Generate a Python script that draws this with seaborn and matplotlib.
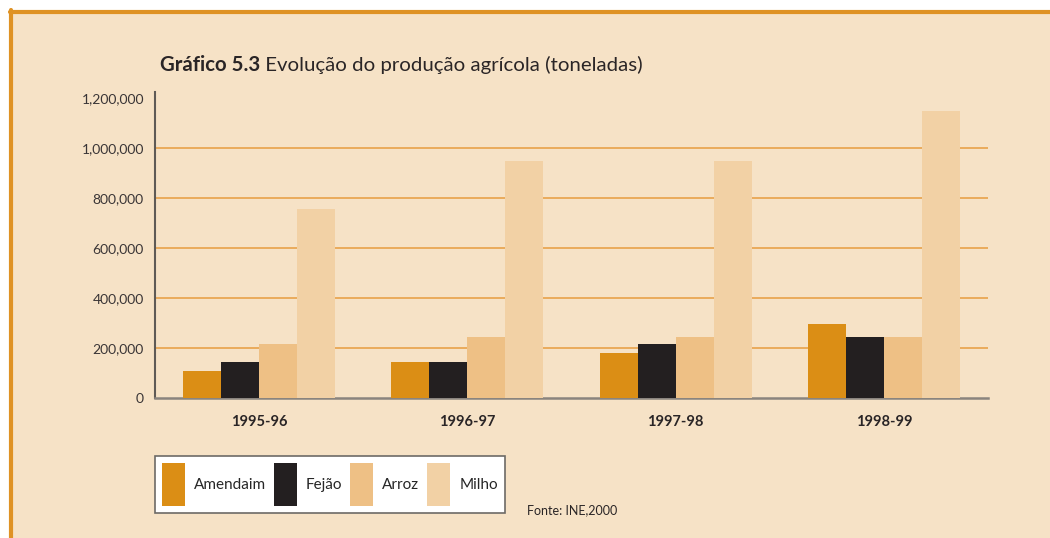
import matplotlib
matplotlib.use("Agg")
import matplotlib.pyplot as plt
import matplotlib.patches as mpatches
import pandas as pd
import seaborn as sns

anos = ["1995-96", "1996-97", "1997-98", "1998-99"]
culturas = ["Amendaim", "Fejão", "Arroz", "Milho"]
amendaim = [110000, 145000, 182000, 298000]
fejao = [145000, 145000, 215000, 244000]
arroz = [215000, 244000, 244000, 244000]
milho = [755000, 950000, 950000, 1147000]
yticks = [0, 200000, 400000, 600000, 800000, 1000000, 1200000]

cores = ["#DB8E15", "#231F20", "#EEC085", "#F2D1A5"]
fundo = "#F6E2C6"
laranja = "#E8A24A"

df = pd.DataFrame({
    "ano": anos * 4,
    "cultura": [c for c in culturas for _ in anos],
    "valor": amendaim + fejao + arroz + milho,
})

sns.set_style("white")
plt.rcParams["font.family"] = ["Lato", "DejaVu Sans"]

fig = plt.figure(figsize=(10.5, 5.38), dpi=100)
fig.patch.set_facecolor("white")

# fundo com moldura laranja (topo e esquerda)
fig.patches.append(mpatches.Rectangle((9 / 1050, 0), 1, 1 - 11 / 538, transform=fig.transFigure,
                                      facecolor=fundo, edgecolor="none", zorder=-2))
fig.add_artist(plt.Line2D([10 / 1050, 1], [1 - 11.5 / 538] * 2, color="#DF9224", lw=3))
fig.add_artist(plt.Line2D([10.5 / 1050] * 2, [0, 1 - 10 / 538], color="#DF9224", lw=3))

ax = fig.add_axes([155 / 1050, 1 - 398 / 538, 833 / 1050, 306 / 538])
ax.set_facecolor("none")

sns.barplot(data=df, x="ano", y="valor", hue="cultura", hue_order=culturas,
            palette=cores, saturation=1, width=0.73, ax=ax, legend=True, linewidth=0, zorder=3)

ax.set_xlim(-0.5, 3.5)
ax.set_ylim(0, 1225000)
ax.set_yticks(yticks)
ax.set_yticklabels([f"{v:,}" for v in yticks], fontsize=10, color="#3a3536")
for v in yticks[1:-1]:
    ax.axhline(v, color=laranja, lw=1.2, zorder=1)
ax.tick_params(axis="both", length=0)
ax.tick_params(axis="y", pad=8)
ax.tick_params(axis="x", pad=12)
for lbl in ax.get_xticklabels():
    lbl.set_fontweight("bold")
    lbl.set_fontsize(10.5)
    lbl.set_color("#2a2526")
ax.set_xlabel("")
ax.set_ylabel("")
for s in ["top", "right"]:
    ax.spines[s].set_visible(False)
ax.spines["left"].set_color("#5f5a56")
ax.spines["left"].set_linewidth(1.5)
ax.spines["bottom"].set_color("#8a847e")
ax.spines["bottom"].set_linewidth(1.8)

handles, labels = ax.get_legend_handles_labels()
ax.get_legend().remove()
leg = fig.legend(handles, labels, loc="center", mode="expand", ncol=4,
                 bbox_to_anchor=(155 / 1050, 1 - 515 / 538, 350 / 1050, 61 / 538),
                 borderaxespad=0, frameon=True, fancybox=False, framealpha=1, facecolor="white",
                 edgecolor="#6d6a66", fontsize=11, handlelength=1.5, handleheight=3.9,
                 handletextpad=0.6, columnspacing=0.6, borderpad=0.45)
leg.get_frame().set_linewidth(1.2)

# título: parte em negrito + resto na mesma linha de base
ty = 1 - 71 / 538
t1 = fig.text(160 / 1050, ty, "Gráfico 5.3", fontsize=14.7, fontweight="bold",
              color="#2a2526", va="baseline")
fig.canvas.draw()
x1 = t1.get_window_extent().x1 / fig.bbox.width
fig.text(x1, ty, " Evolução do produção agrícola (toneladas)", fontsize=14.7,
         color="#2a2526", va="baseline")

fig.text(527 / 1050, 1 - 510 / 538, "Fonte: INE,2000", fontsize=9, color="#2a2526", va="center")

fig.savefig("out.png", dpi=100)
